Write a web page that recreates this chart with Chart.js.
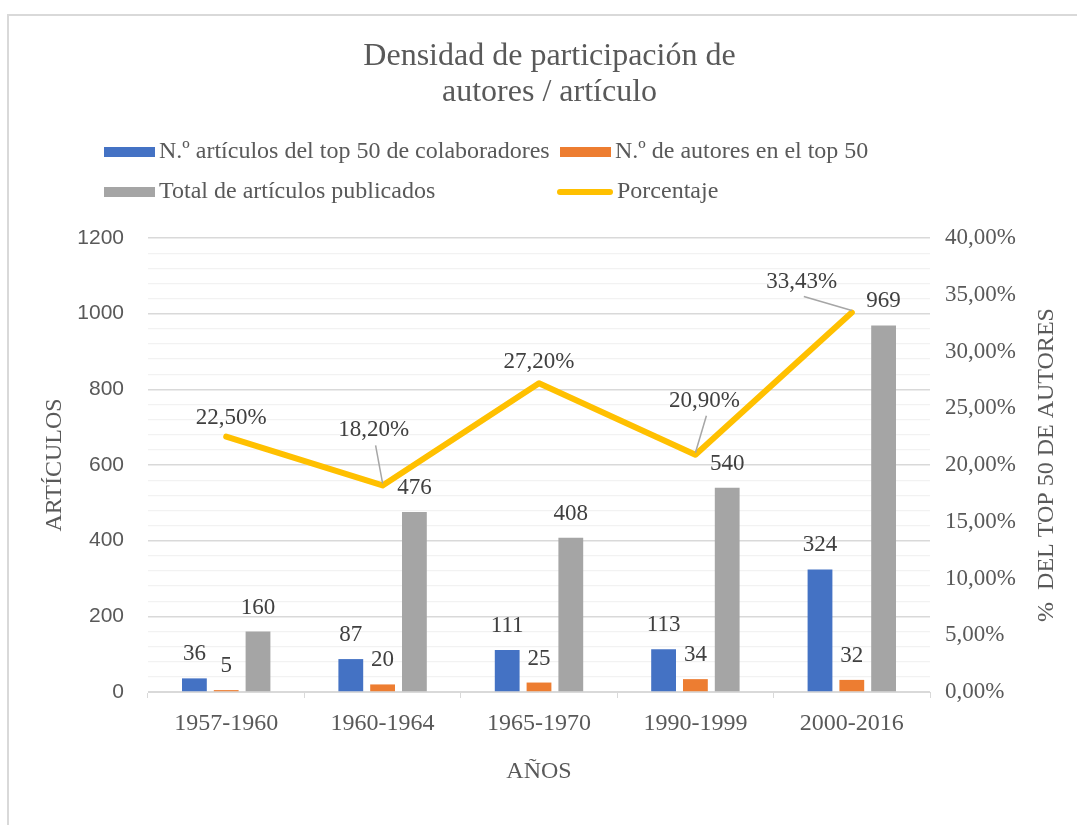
<!DOCTYPE html>
<html>
<head>
<meta charset="utf-8">
<script src="https://cdn.jsdelivr.net/npm/chart.js@4.4.1/dist/chart.umd.min.js"></script>
<style>
  html, body { margin: 0; padding: 0; background: #fff; }
  #frame { position: absolute; left: 7px; top: 14px; width: 1200px; height: 1000px;
           border-left: 2px solid #d9d9d9; border-top: 2px solid #d9d9d9; }
  #wrap { position: absolute; left: 0; top: 0; width: 1077px; height: 825px; }
</style>
</head>
<body>
<div id="frame"></div>
<div id="wrap"><canvas id="densityChart" width="1077" height="825"></canvas></div>
<script>
// Datos
const periods = ["1957-1960", "1960-1964", "1965-1970", "1990-1999", "2000-2016"];
const topArticles = [36, 87, 111, 113, 324];
const topAuthors = [5, 20, 25, 34, 32];
const totalArticles = [160, 476, 408, 540, 969];
const percentage = [22.5, 18.2, 27.2, 20.9, 33.43];
const leftTicks = [0, 200, 400, 600, 800, 1000, 1200];

const SERIF = '"Liberation Serif", "DejaVu Serif", serif';
const SANS = '"Liberation Sans", Arial, sans-serif';

function fmtPct(v) {
    return v.toFixed(2).replace(".", ",") + "%";
}

// Etiquetas de valor sobre barras y puntos
const valueLabels = {
    id: "valueLabels",
    afterDatasetsDraw(chart, args, opts) {
        const ctx = chart.ctx;
        ctx.save();
        ctx.font = "23px " + SERIF;
        ctx.textAlign = "center";
        ctx.textBaseline = "middle";
        chart.data.datasets.forEach((ds, i) => {
            const meta = chart.getDatasetMeta(i);
            meta.data.forEach((el, j) => {
                if (ds.type === "line") {
                    const off = opts.lineOffsets[j];
                    const lx = el.x + off[0], ly = el.y + off[1];
                    if (off[2]) {
                        ctx.strokeStyle = "#a6a6a6";
                        ctx.lineWidth = 1.5;
                        ctx.beginPath();
                        ctx.moveTo(lx + 2, ly + 15);
                        ctx.lineTo(el.x, el.y - 2);
                        ctx.stroke();
                    }
                    ctx.fillStyle = "#404040";
                    ctx.fillText(fmtPct(ds.data[j]), lx, ly);
                } else {
                    ctx.fillStyle = "#404040";
                    ctx.fillText(String(ds.data[j]), el.x, el.y - 24);
                }
            });
        });
        ctx.restore();
    }
};

// Leyenda en dos columnas
const legendGrid = {
    id: "legendGrid",
    afterDraw(chart, args, opts) {
        const ctx = chart.ctx;
        ctx.save();
        ctx.font = "24px " + SERIF;
        ctx.textBaseline = "middle";
        ctx.textAlign = "left";
        chart.data.datasets.forEach((ds, i) => {
            const x = opts.colX[i % 2];
            const y = opts.rowY[Math.floor(i / 2)];
            if (ds.type === "line") {
                ctx.strokeStyle = ds.borderColor;
                ctx.lineWidth = 6;
                ctx.lineCap = "round";
                ctx.beginPath();
                ctx.moveTo(x, y);
                ctx.lineTo(x + 50, y);
                ctx.stroke();
                ctx.fillStyle = "#595959";
                ctx.fillText(ds.label, x + 57, y);
            } else {
                ctx.fillStyle = ds.backgroundColor;
                ctx.fillRect(x, y - 5, 51, 10);
                ctx.fillStyle = "#595959";
                ctx.fillText(ds.label, x + 55, y);
            }
        });
        ctx.restore();
    }
};

// Titulo del eje derecho, leido de abajo hacia arriba como en Excel
const rightTitle = {
    id: "rightTitle",
    afterDraw(chart, args, opts) {
        const t = chart.options.scales.y1.title;
        const area = chart.chartArea;
        const ctx = chart.ctx;
        ctx.save();
        ctx.translate(opts.x, (area.top + area.bottom) / 2);
        ctx.rotate(-Math.PI / 2);
        ctx.font = "24px " + SERIF;
        ctx.fillStyle = "#595959";
        ctx.textAlign = "center";
        ctx.textBaseline = "middle";
        ctx.fillText(t.text, 0, 0);
        ctx.restore();
    }
};

new Chart(document.getElementById("densityChart"), {
    type: "bar",
    data: {
        labels: periods,
        datasets: [
            { label: "N.º artículos del top 50 de colaboradores", data: topArticles,
              backgroundColor: "#4472C4", yAxisID: "y", order: 1 },
            { label: "N.º de autores en el top 50", data: topAuthors,
              backgroundColor: "#ED7D31", yAxisID: "y", order: 1 },
            { label: "Total de artículos publicados", data: totalArticles,
              backgroundColor: "#A5A5A5", yAxisID: "y", order: 1 },
            { type: "line", label: "Porcentaje", data: percentage,
              borderColor: "#FFC000", backgroundColor: "#FFC000", borderWidth: 6,
              pointRadius: 0, borderCapStyle: "round", borderJoinStyle: "round",
              tension: 0, yAxisID: "y1", order: 0 }
        ]
    },
    options: {
        responsive: false,
        animation: false,
        layout: { padding: { left: 22, right: 0, top: 0, bottom: 0 } },
        datasets: { bar: { categoryPercentage: 0.61, barPercentage: 0.78 } },
        plugins: {
            legend: { display: false },
            tooltip: { enabled: false },
            title: {
                display: true,
                text: ["Densidad de participación de", "autores / artículo"],
                color: "#595959",
                font: { family: SERIF, size: 32, weight: "normal", lineHeight: 1.1 },
                padding: { top: 39.4, bottom: 128.2 }
            },
            valueLabels: {
                lineOffsets: [[5, -19, 0], [-9, -55, 1], [0, -21, 0], [9, -54, 1], [-50, -31, 1]]
            },
            legendGrid: { colX: [104, 560], rowY: [152, 192] },
            rightTitle: { x: 1047 }
        },
        scales: {
            x: {
                grid: { display: true, drawOnChartArea: false, drawTicks: true, tickLength: 6, color: "#d9d9d9" },
                border: { display: true, color: "#d9d9d9", width: 1 },
                ticks: { color: "#595959", padding: 11.6, font: { family: SERIF, size: 24 } },
                title: { display: true, text: "AÑOS", color: "#595959",
                         font: { family: SERIF, size: 24 }, padding: { top: 0, bottom: 38.6 } },
                afterFit(scale) { scale.height = 133; }
            },
            y: {
                position: "left",
                min: 0, max: 1200,
                ticks: {
                    stepSize: 40, autoSkip: false, color: "#595959", padding: 24,
                    font: { family: SANS, size: 21 },
                    callback: (v) => leftTicks.includes(v) ? String(v) : ""
                },
                grid: {
                    drawTicks: false,
                    color: (c) => leftTicks.includes(c.tick.value) ? "#d9d9d9" : "#f2f2f2",
                    lineWidth: (c) => leftTicks.includes(c.tick.value) ? 1.5 : 1.2
                },
                border: { display: false },
                title: { display: true, text: "ARTÍCULOS", color: "#595959",
                         font: { family: SERIF, size: 24 }, padding: { top: 18.6, bottom: 0 } },
                afterFit(scale) { scale.width = 126; }
            },
            y1: {
                position: "right",
                min: 0, max: 40,
                ticks: {
                    stepSize: 5, color: "#595959", padding: 15,
                    font: { family: SERIF, size: 23 },
                    callback: (v) => fmtPct(v)
                },
                grid: { drawOnChartArea: false, drawTicks: false },
                border: { display: false },
                title: { display: false, text: "%  DEL TOP 50 DE AUTORES" },
                afterFit(scale) { scale.width = 147; }
            }
        }
    },
    plugins: [valueLabels, legendGrid, rightTitle]
});
</script>
</body>
</html>
